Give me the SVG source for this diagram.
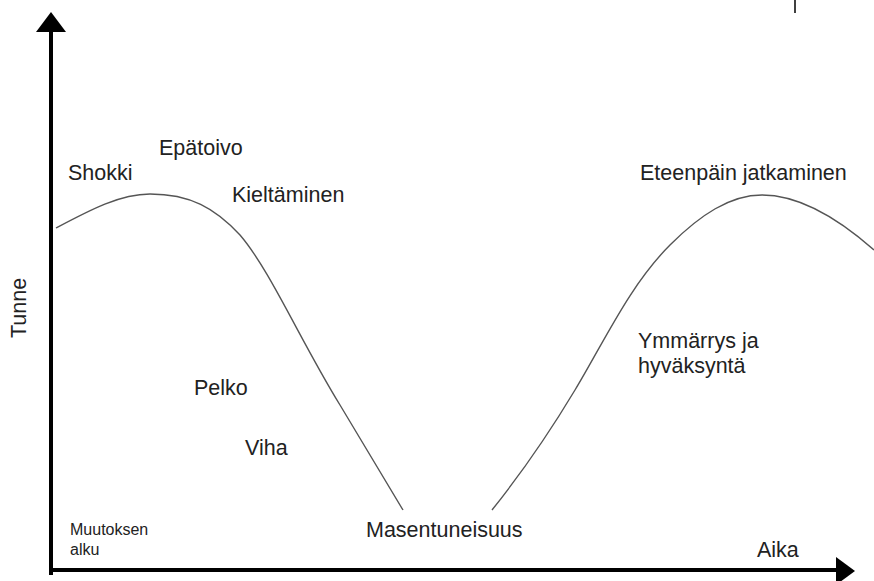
<svg xmlns="http://www.w3.org/2000/svg" width="874" height="581" viewBox="0 0 874 581">
<style>
.lbl{font-family:"Liberation Sans",Arial,sans-serif;font-size:21.5px;fill:#222}
.small{font-family:"Liberation Sans",Arial,sans-serif;font-size:16px;fill:#222}
.axis{stroke:#000;stroke-width:4;fill:none}
.curve{stroke:#555;stroke-width:1.4;fill:none}
</style>
<rect width="874" height="581" fill="#fff"/>
<g id="axes">
<line class="axis" x1="51" y1="28" x2="51" y2="575"/>
<polygon points="51,12 66,32 36,32" fill="#000"/>
<line class="axis" x1="49" y1="570" x2="838" y2="570"/>
<polygon points="836,557 855,571 836,585" fill="#000"/>
<line x1="795" y1="0" x2="795" y2="13" stroke="#000" stroke-width="1.5"/>
</g>
<g id="connectors">
<path class="curve" d="M56,228 C90,210 120,194 150,194 C190,194 215,208 240,235 C270,270 300,340 340,405 C365,447 385,480 403,510"/>
<path class="curve" d="M492,510 C520,475 545,440 575,390 C605,340 630,285 670,245 C700,215 730,195 762,195 C800,195 840,220 874,250"/>
</g>
<g id="tunne"><text class="lbl" transform="translate(26,308) rotate(-90)" text-anchor="middle" font-size="20">Tunne</text></g>
<g id="shokki"><text class="lbl" x="68" y="180">Shokki</text></g>
<g id="epatoivo"><text class="lbl" x="159" y="155">Epätoivo</text></g>
<g id="kieltaminen"><text class="lbl" x="232" y="202">Kieltäminen</text></g>
<g id="pelko"><text class="lbl" x="194" y="395">Pelko</text></g>
<g id="viha"><text class="lbl" x="245" y="455">Viha</text></g>
<g id="masentuneisuus"><text class="lbl" x="366" y="537">Masentuneisuus</text></g>
<g id="ymmarrys"><text class="lbl" x="638" y="348">Ymmärrys ja</text><text class="lbl" x="638" y="373">hyväksyntä</text></g>
<g id="eteenpain"><text class="lbl" x="640" y="180">Eteenpäin jatkaminen</text></g>
<g id="muutoksen"><text class="small" x="70" y="535">Muutoksen</text><text class="small" x="70" y="555">alku</text></g>
<g id="aika"><text class="lbl" x="757" y="557">Aika</text></g>
</svg>
